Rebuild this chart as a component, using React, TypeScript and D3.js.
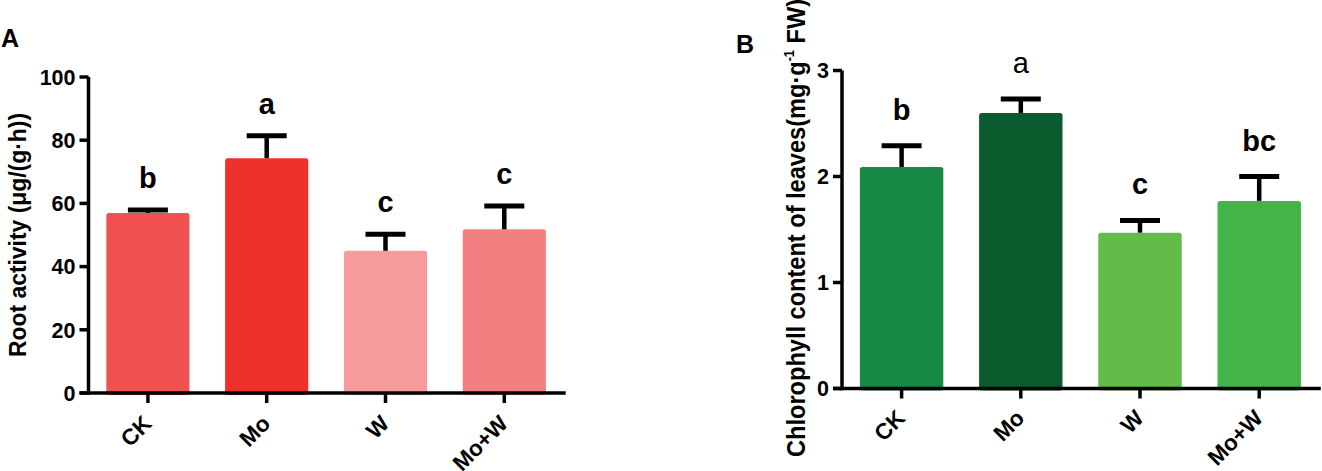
import React, { useRef, useEffect } from 'react';
import * as d3 from 'd3';

// Treatments shared by both panels
const categories = ['CK', 'Mo', 'W', 'Mo+W'];

// Panel A: root activity
const rootMeans = [57.0, 74.3, 45.0, 51.8];
const rootErrors = [0.9, 7.1, 5.2, 7.4];
const rootLetters = ['b', 'a', 'c', 'c'];
const rootTicks = [0, 20, 40, 60, 80, 100];
const rootColors = ['#F05252', '#EE312B', '#F59B9B', '#F37F80'];

// Panel B: chlorophyll content
const chlMeans = [2.09, 2.6, 1.47, 1.77];
const chlErrors = [0.2, 0.13, 0.115, 0.23];
const chlLetters = ['b', 'a', 'c', 'bc'];
const chlLetterWeights = ['bold', 'normal', 'bold', 'bold'];
const chlTicks = [0, 1, 2, 3];
const chlColors = ['#168A44', '#0A5C2F', '#63BC47', '#42B44A'];

const FONT = '"Liberation Sans", Arial, Helvetica, sans-serif';

interface PanelConfig {
   x0: number;
   x1: number;
   y0: number;
   y1: number;
   max: number;
   ticks: number[];
   means: number[];
   errors: number[];
   letters: string[];
   weights?: string[];
   colors: string[];
   letterGap: number;
   labelGap: number;
   panel: string;
   panelPos: [number, number];
   yLabelX: number;
   yLabelY: number;
   yLabelSize: number;
   yLabelLength: number;
}

const drawPanel = (
   svg: d3.Selection<SVGSVGElement, unknown, null, undefined>,
   cfg: PanelConfig,
   yLabel: (t: d3.Selection<SVGTextElement, unknown, null, undefined>) => void,
) => {
   const g = svg.append('g');

   const x = d3
      .scaleBand<string>()
      .domain(categories)
      .range([cfg.x0, cfg.x1])
      .paddingInner(0.3)
      .paddingOuter(0.15);

   const y = d3.scaleLinear().domain([0, cfg.max]).range([cfg.y0, cfg.y1]);

   // bars
   g.selectAll('rect.bar')
      .data(cfg.means)
      .join('rect')
      .attr('class', 'bar')
      .attr('x', (_, i) => x(categories[i])!)
      .attr('y', (d) => y(d))
      .attr('width', x.bandwidth())
      .attr('height', (d) => y(0) - y(d) + 2)
      .attr('rx', 2.5)
      .attr('fill', (_, i) => cfg.colors[i]);

   // error bars (upper only)
   const err = g
      .selectAll('g.err')
      .data(cfg.means)
      .join('g')
      .attr('class', 'err')
      .attr('transform', (_, i) => `translate(${x(categories[i])! + x.bandwidth() / 2},0)`);

   err.append('line')
      .attr('y1', (d) => y(d))
      .attr('y2', (d, i) => y(d + cfg.errors[i]))
      .attr('stroke', '#000')
      .attr('stroke-width', 4.5);

   err.append('line')
      .attr('x1', -20)
      .attr('x2', 20)
      .attr('y1', (d, i) => y(d + cfg.errors[i]))
      .attr('y2', (d, i) => y(d + cfg.errors[i]))
      .attr('stroke', '#000')
      .attr('stroke-width', 5);

   // significance letters
   err.append('text')
      .attr('y', (d, i) => y(d + cfg.errors[i]) - cfg.letterGap)
      .attr('text-anchor', 'middle')
      .attr('font-family', FONT)
      .attr('font-size', 29)
      .attr('font-weight', (_, i) => (cfg.weights ? cfg.weights[i] : 'bold'))
      .attr('fill', '#000')
      .text((_, i) => cfg.letters[i]);

   // axes
   const axisColor = '#000';
   g.append('line')
      .attr('x1', cfg.x0)
      .attr('x2', cfg.x0)
      .attr('y1', y(0) + 1.75)
      .attr('y2', y(cfg.max))
      .attr('stroke', axisColor)
      .attr('stroke-width', 3.5);

   g.append('line')
      .attr('x1', cfg.x0 - 9)
      .attr('x2', cfg.x1 + 2)
      .attr('y1', y(0))
      .attr('y2', y(0))
      .attr('stroke', axisColor)
      .attr('stroke-width', 3.5);

   const yt = g.selectAll('g.yt').data(cfg.ticks).join('g').attr('class', 'yt')
      .attr('transform', (d) => `translate(${cfg.x0},${y(d)})`);
   yt.append('line').attr('x1', -9).attr('x2', 0).attr('stroke', axisColor).attr('stroke-width', 3.5);
   yt.append('text')
      .attr('x', -13)
      .attr('dy', '0.36em')
      .attr('text-anchor', 'end')
      .attr('font-family', FONT)
      .attr('font-size', 21.5)
      .attr('font-weight', 'bold')
      .text((d) => d);

   const xt = g.selectAll('g.xt').data(categories).join('g').attr('class', 'xt')
      .attr('transform', (d) => `translate(${x(d)! + x.bandwidth() / 2},${y(0)})`);
   xt.append('line').attr('y1', 0).attr('y2', 10).attr('stroke', axisColor).attr('stroke-width', 3.5);
   xt.append('text')
      .attr('transform', `translate(5,${cfg.labelGap}) rotate(-45)`)
      .attr('text-anchor', 'end')
      .attr('font-family', FONT)
      .attr('font-size', 22.5)
      .attr('font-weight', 'bold')
      .text((d) => d);

   // y label
   const lbl = g.append('text')
      .attr('transform', `translate(${cfg.yLabelX},${cfg.yLabelY}) rotate(-90)`)
      .attr('text-anchor', 'middle')
      .attr('font-family', FONT)
      .attr('font-size', cfg.yLabelSize)
      .attr('font-weight', 'bold')
      .attr('textLength', cfg.yLabelLength)
      .attr('lengthAdjust', 'spacingAndGlyphs');
   yLabel(lbl as any);

   // panel letter
   g.append('text')
      .attr('x', cfg.panelPos[0])
      .attr('y', cfg.panelPos[1])
      .attr('font-family', FONT)
      .attr('font-size', 25)
      .attr('font-weight', 'bold')
      .text(cfg.panel);
};

export default function App() {
   const svgRef = useRef<SVGSVGElement | null>(null);

   useEffect(() => {
      if (!svgRef.current) return;
      const svg = d3.select(svgRef.current);
      svg.selectAll('*').remove();

      drawPanel(
         svg,
         {
            x0: 88.5, x1: 563.7, y0: 393, y1: 77, max: 100,
            ticks: rootTicks, means: rootMeans, errors: rootErrors,
            letters: rootLetters, colors: rootColors,
            letterGap: 22, labelGap: 32, panel: 'A', panelPos: [1, 47],
            yLabelX: 26, yLabelY: 235, yLabelSize: 24, yLabelLength: 244,
         },
         (t) => t.text('Root activity (μg/(g·h))'),
      );

      drawPanel(
         svg,
         {
            x0: 842, x1: 1318.8, y0: 388.5, y1: 70.5, max: 3,
            ticks: chlTicks, means: chlMeans, errors: chlErrors,
            letters: chlLetters, weights: chlLetterWeights, colors: chlColors,
            letterGap: 26, labelGap: 31, panel: 'B', panelPos: [736, 53],
            yLabelX: 805, yLabelY: 228, yLabelSize: 26, yLabelLength: 458,
         },
         (t) => {
            t.append('tspan').text('Chlorophyll content of leaves(mg·g');
            t.append('tspan').attr('font-size', 14).attr('dy', -11).text('-1');
            t.append('tspan').attr('dy', 11).text('  FW)');
         },
      );
   }, []);

   return (
      <svg
         ref={svgRef}
         width={1322}
         height={471}
         style={{ position: 'absolute', left: 0, top: 0, background: '#fff' }}
      />
   );
}
